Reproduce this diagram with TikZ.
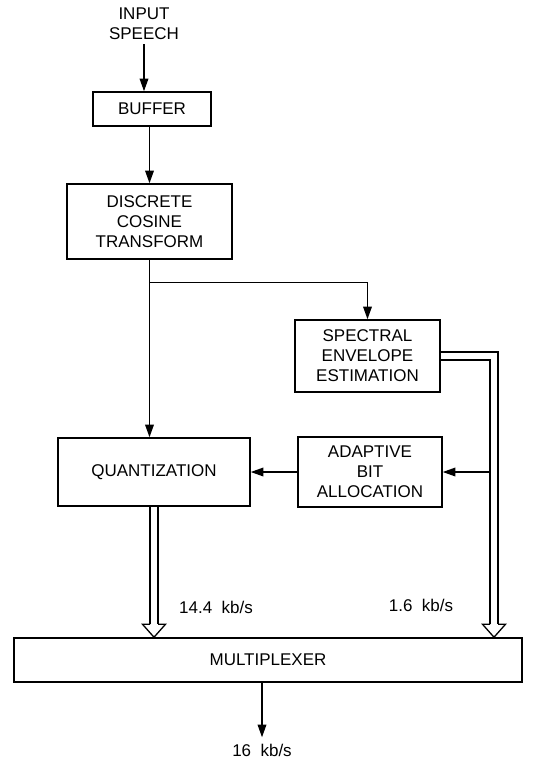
\documentclass[tikz,border=0pt]{standalone}
\usepackage{fontspec}
\setmainfont{Liberation Sans}
\usetikzlibrary{positioning, arrows.meta, calc}

\begin{document}
\begin{tikzpicture}[
    x=0.3mm, y=-0.3mm,
    font=\fontsize{14.5}{17}\selectfont,
    box/.style={rectangle, draw, line width=1.3pt, align=center, inner sep=0pt},
    arrow/.style={-{Triangle[length=3.8mm, width=2.6mm]}, line width=1.2pt},
    bus/.style={double, double distance=1.95mm, line width=1.1pt, line join=miter},
    head/.style={line width=1.1pt, line join=miter}
]
\useasboundingbox (0,0) rectangle (533,761);

% Blocks
\node[align=center] (speech) at (144,24) {INPUT\\SPEECH};
\node[box, minimum width=35.4mm, minimum height=10.2mm] (buffer) at (152,109) {BUFFER};
\node[box, minimum width=49.5mm, minimum height=22.5mm] (dct) at (149.5,221.5) {DISCRETE\\COSINE\\TRANSFORM};
\node[box, minimum width=43.5mm, minimum height=21.6mm] (spec) at (367.5,356) {SPECTRAL\\ENVELOPE\\ESTIMATION};
\node[box, minimum width=57.6mm, minimum height=20.4mm] (quant) at (154,472) {QUANTIZATION};
\node[box, minimum width=43.2mm, minimum height=21mm] (adapt) at (370,472) {ADAPTIVE\\BIT\\ALLOCATION};
\node[box, minimum width=152.4mm, minimum height=13.2mm] (mux) at (268,660) {MULTIPLEXER};
\node (out) at (262,750) {16~~kb/s};

% Arrows
\draw[arrow] (speech.south) -- (speech.south |- buffer.north);
\draw[arrow] (dct.north |- buffer.south) -- (dct.north);
\draw[arrow] (dct.south) -- (dct.south |- quant.north);
\coordinate (split) at ($(dct.south)+(0,23)$);
\draw[arrow] (split) -| (spec.north);
\draw[arrow] (adapt.west) -- (quant.east);
\draw[arrow] (out.north |- mux.south) -- ([yshift=2pt]out.north);

% Wide paths into the multiplexer
\coordinate (rbus) at (494,0);
\draw[bus] (quant.south) -- ($(quant.south |- mux.north)+(0,-13)$) coordinate (qhead);
\draw[head] ($(qhead)+(-4,0)$) -- ++(-7.5,0) -- ++(11.5,13) -- ++(11.5,-13) -- ++(-7.5,0);
\draw[bus] (spec.east) -| ($(rbus |- mux.north)+(0,-13)$) coordinate (shead);
\draw[head] ($(shead)+(-4,0)$) -- ++(-7.5,0) -- ++(11.5,13) -- ++(11.5,-13) -- ++(-7.5,0);
\draw[arrow] ($(rbus |- adapt.east)+(-4,0)$) -- (adapt.east);

% Rates
\node (qrate) at (216,607) {14.4~~kb/s};
\node (srate) at (421,605) {1.6~~kb/s};

\end{tikzpicture}
\end{document}
